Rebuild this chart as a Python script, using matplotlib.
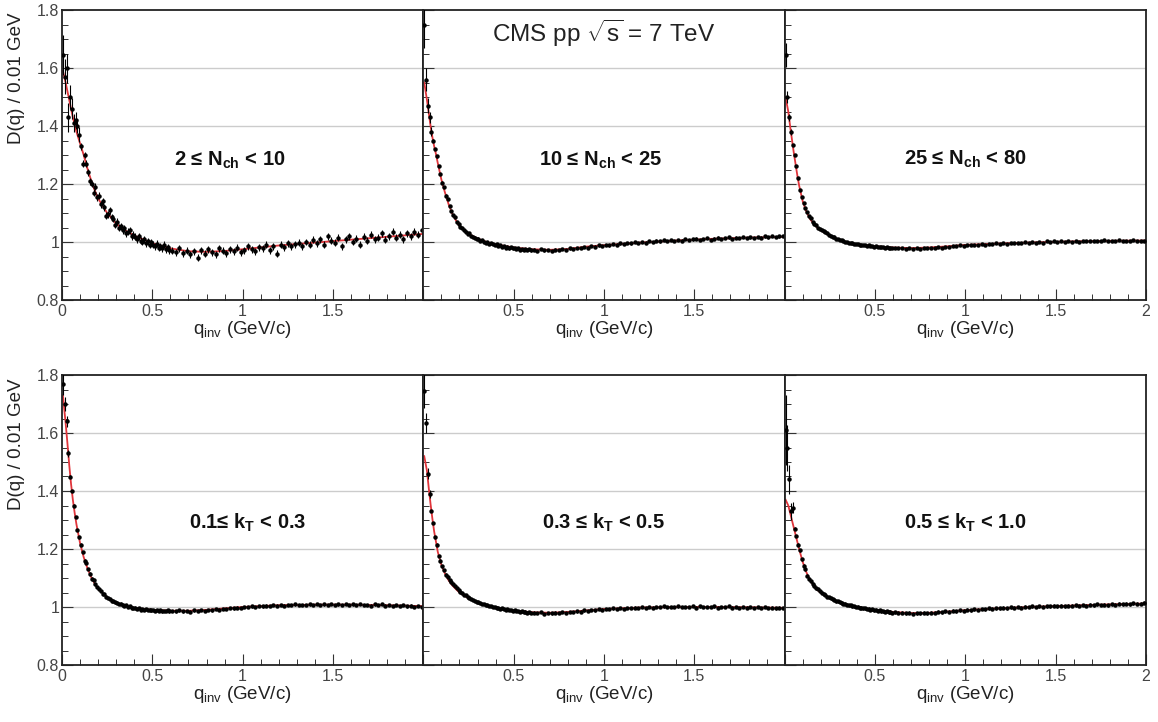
import numpy as np
import matplotlib
matplotlib.use("Agg")
import matplotlib.pyplot as plt
from matplotlib.ticker import MultipleLocator, FixedLocator, FixedFormatter

plt.rcParams["font.family"] = ["Liberation Sans", "DejaVu Sans"]
plt.rcParams["mathtext.fontset"] = "custom"
plt.rcParams["mathtext.rm"] = "Liberation Sans"
plt.rcParams["mathtext.it"] = "Liberation Sans:italic"
plt.rcParams["mathtext.bf"] = "Liberation Sans:bold"
plt.rcParams["mathtext.sf"] = "Liberation Sans"

# bin centres: 0.01 GeV bins up to 0.6, then every other bin
q_lo = np.arange(60) * 0.01 + 0.005
q_hi = np.arange(70) * 0.02 + 0.61
q_bins = np.concatenate([q_lo, q_hi])

# ---- measured D(q), one list per panel ----
d_nch_2_10 = [
    1.645, 1.570, 1.600, 1.430, 1.500, 1.460, 1.410, 1.420, 1.400, 1.370,
    1.330, 1.270, 1.300, 1.270, 1.240, 1.210, 1.200, 1.170, 1.190, 1.155,
    1.160, 1.130, 1.140, 1.120, 1.090, 1.095, 1.110, 1.085, 1.080, 1.060,
    1.070, 1.050, 1.055, 1.040, 1.048, 1.030, 1.035, 1.040, 1.020, 1.025,
    1.018, 1.010, 1.020, 1.005, 1.000, 1.010, 0.995, 1.002, 0.990, 1.000,
    0.990, 0.985, 0.994, 0.980, 0.985, 0.978, 0.990, 0.975, 0.982, 0.972,
    0.970, 0.965, 0.978, 0.962, 0.970, 0.958, 0.968, 0.945, 0.972, 0.960,
    0.975, 0.965, 0.958, 0.978, 0.970, 0.962, 0.975, 0.968, 0.980, 0.965,
    0.972, 0.985, 0.975, 0.968, 0.982, 0.978, 0.990, 0.972, 0.985, 0.960,
    0.990, 0.982, 0.995, 0.985, 0.992, 0.998, 0.985, 1.000, 0.990, 1.008,
    0.995, 1.010, 0.990, 1.020, 1.005, 0.998, 1.015, 0.985, 1.010, 1.020,
    1.000, 1.012, 0.990, 1.018, 1.005, 1.025, 1.010, 1.015, 1.030, 1.008,
    1.020, 1.035, 1.015, 1.025, 1.010, 1.030, 1.020, 1.035, 1.025, 1.040,
]
d_nch_10_25 = [
    1.750, 1.560, 1.470, 1.430, 1.380, 1.350, 1.320, 1.295, 1.262, 1.235,
    1.205, 1.190, 1.160, 1.148, 1.125, 1.108, 1.092, 1.085, 1.068, 1.062,
    1.052, 1.048, 1.040, 1.036, 1.028, 1.030, 1.020, 1.018, 1.015, 1.010,
    1.012, 1.005, 1.006, 1.000, 0.998, 1.000, 0.994, 0.996, 0.992, 0.990,
    0.992, 0.986, 0.988, 0.984, 0.986, 0.980, 0.984, 0.978, 0.982, 0.978,
    0.980, 0.976, 0.978, 0.974, 0.977, 0.972, 0.976, 0.973, 0.975, 0.971,
    0.974, 0.970, 0.975, 0.971, 0.973, 0.969, 0.974, 0.972, 0.976, 0.973,
    0.978, 0.976, 0.980, 0.979, 0.983, 0.981, 0.986, 0.984, 0.988, 0.987,
    0.990, 0.988, 0.993, 0.991, 0.995, 0.994, 0.997, 0.995, 0.999, 0.996,
    1.000, 0.998, 1.003, 1.000, 1.005, 1.002, 1.006, 1.003, 1.007, 1.004,
    1.008, 1.005, 1.010, 1.006, 1.009, 1.012, 1.007, 1.011, 1.013, 1.008,
    1.012, 1.015, 1.010, 1.014, 1.016, 1.011, 1.015, 1.013, 1.017, 1.014,
    1.016, 1.013, 1.018, 1.015, 1.019, 1.016, 1.020, 1.017, 1.019, 1.021,
]
d_nch_25_80 = [
    1.645, 1.500, 1.430, 1.380, 1.335, 1.300, 1.262, 1.220, 1.180, 1.155,
    1.135, 1.118, 1.102, 1.090, 1.082, 1.070, 1.062, 1.058, 1.050, 1.046,
    1.040, 1.037, 1.034, 1.030, 1.024, 1.022, 1.018, 1.016, 1.012, 1.010,
    1.008, 1.006, 1.004, 1.001, 0.999, 0.998, 0.996, 0.996, 0.993, 0.994,
    0.992, 0.990, 0.991, 0.988, 0.989, 0.987, 0.988, 0.985, 0.987, 0.984,
    0.985, 0.983, 0.984, 0.982, 0.983, 0.980, 0.982, 0.980, 0.981, 0.979,
    0.981, 0.979, 0.980, 0.977, 0.979, 0.976, 0.979, 0.977, 0.980, 0.978,
    0.981, 0.979, 0.983, 0.981, 0.984, 0.983, 0.986, 0.985, 0.988, 0.987,
    0.990, 0.989, 0.991, 0.990, 0.993, 0.991, 0.994, 0.993, 0.995, 0.994,
    0.996, 0.994, 0.997, 0.996, 0.998, 0.996, 0.999, 0.997, 1.000, 0.998,
    1.000, 0.998, 1.002, 0.999, 1.003, 1.000, 1.002, 1.001, 1.004, 1.001,
    1.003, 1.001, 1.004, 1.002, 1.005, 1.002, 1.004, 1.003, 1.006, 1.003,
    1.005, 1.003, 1.006, 1.004, 1.005, 1.003, 1.006, 1.004, 1.005, 1.004,
]
d_kt_01_03 = [
    1.770, 1.700, 1.640, 1.530, 1.450, 1.400, 1.350, 1.310, 1.265, 1.240,
    1.215, 1.190, 1.160, 1.152, 1.130, 1.115, 1.098, 1.092, 1.078, 1.070,
    1.062, 1.055, 1.046, 1.044, 1.036, 1.032, 1.028, 1.022, 1.020, 1.016,
    1.015, 1.010, 1.012, 1.006, 1.004, 1.006, 1.000, 1.002, 0.998, 0.996,
    0.998, 0.993, 0.996, 0.991, 0.994, 0.990, 0.992, 0.989, 0.991, 0.988,
    0.990, 0.987, 0.989, 0.986, 0.988, 0.985, 0.987, 0.986, 0.988, 0.985,
    0.987, 0.985, 0.988, 0.985, 0.987, 0.984, 0.988, 0.986, 0.989, 0.987,
    0.990, 0.988, 0.992, 0.991, 0.994, 0.993, 0.996, 0.995, 0.998, 0.997,
    1.000, 0.999, 1.002, 1.001, 1.004, 1.002, 1.005, 1.003, 1.006, 1.005,
    1.007, 1.005, 1.008, 1.006, 1.009, 1.007, 1.008, 1.006, 1.009, 1.008,
    1.010, 1.006, 1.009, 1.008, 1.011, 1.007, 1.009, 1.008, 1.010, 1.006,
    1.009, 1.007, 1.010, 1.006, 1.008, 1.005, 1.009, 1.006, 1.010, 1.005,
    1.007, 1.004, 1.008, 1.003, 1.006, 1.002, 1.005, 1.001, 1.004, 1.000,
]
d_kt_03_05 = [
    1.745, 1.635, 1.460, 1.390, 1.330, 1.290, 1.240, 1.215, 1.175, 1.160,
    1.140, 1.128, 1.112, 1.105, 1.092, 1.085, 1.078, 1.072, 1.066, 1.058,
    1.052, 1.048, 1.042, 1.040, 1.034, 1.030, 1.027, 1.024, 1.020, 1.018,
    1.016, 1.014, 1.010, 1.011, 1.006, 1.007, 1.003, 1.004, 1.000, 1.001,
    0.998, 0.997, 0.994, 0.995, 0.992, 0.991, 0.993, 0.989, 0.990, 0.987,
    0.988, 0.986, 0.987, 0.984, 0.985, 0.983, 0.984, 0.981, 0.983, 0.980,
    0.981, 0.979, 0.982, 0.977, 0.980, 0.978, 0.981, 0.979, 0.982, 0.980,
    0.983, 0.982, 0.985, 0.984, 0.988, 0.986, 0.990, 0.988, 0.992, 0.991,
    0.993, 0.992, 0.995, 0.993, 0.996, 0.994, 0.997, 0.996, 0.998, 0.996,
    0.999, 0.997, 1.000, 0.998, 1.001, 0.999, 1.002, 0.999, 1.001, 1.000,
    1.002, 0.999, 1.001, 1.000, 1.003, 0.998, 1.002, 1.000, 1.001, 0.999,
    1.002, 0.998, 1.001, 0.999, 1.003, 0.998, 1.000, 0.997, 1.001, 0.998,
    1.000, 0.997, 0.999, 0.996, 0.999, 0.997, 0.998, 0.995, 0.998, 0.996,
]
d_kt_05_10 = [
    1.610, 1.548, 1.440, 1.330, 1.343, 1.270, 1.245, 1.215, 1.195, 1.165,
    1.142, 1.130, 1.108, 1.097, 1.088, 1.080, 1.072, 1.064, 1.062, 1.054,
    1.050, 1.045, 1.042, 1.036, 1.034, 1.030, 1.027, 1.025, 1.020, 1.019,
    1.017, 1.015, 1.012, 1.011, 1.008, 1.006, 1.006, 1.003, 1.003, 1.000,
    1.001, 0.998, 0.997, 0.995, 0.996, 0.993, 0.994, 0.990, 0.992, 0.989,
    0.990, 0.987, 0.989, 0.985, 0.986, 0.984, 0.985, 0.982, 0.984, 0.981,
    0.982, 0.980, 0.981, 0.978, 0.980, 0.977, 0.979, 0.978, 0.981, 0.979,
    0.981, 0.980, 0.983, 0.982, 0.985, 0.983, 0.987, 0.986, 0.989, 0.987,
    0.990, 0.989, 0.992, 0.990, 0.993, 0.992, 0.995, 0.994, 0.996, 0.995,
    0.997, 0.996, 0.999, 0.997, 1.000, 0.998, 1.001, 1.000, 1.002, 1.000,
    1.002, 1.001, 1.003, 1.002, 1.004, 1.002, 1.005, 1.003, 1.005, 1.004,
    1.006, 1.004, 1.007, 1.005, 1.008, 1.006, 1.009, 1.007, 1.008, 1.006,
    1.010, 1.008, 1.011, 1.009, 1.012, 1.010, 1.013, 1.011, 1.012, 1.014,
]

# error bars: larger for the first bins, then a typical size
err_head = [
    [0.07, 0.06, 0.05, 0.05, 0.04, 0.035, 0.03, 0.03, 0.025, 0.025],
    [0.08, 0.04, 0.025, 0.02, 0.015],
    [0.04, 0.02, 0.012, 0.01],
    [0.04, 0.025, 0.018, 0.012],
    [0.06, 0.035, 0.02, 0.015],
    [0.12, 0.08, 0.05, 0.03, 0.02],
]
err_base = [0.012, 0.004, 0.003, 0.004, 0.004, 0.005]

# ---- fitted curves, read at these q values ----
fit_q = [0.005, 0.02, 0.03, 0.04, 0.05, 0.06, 0.07, 0.08, 0.10, 0.12,
         0.14, 0.16, 0.18, 0.20, 0.25, 0.30, 0.35, 0.40, 0.50, 0.60,
         0.70, 0.80, 0.90, 1.0, 1.2, 1.4, 1.6, 1.8, 2.0]
fit_nch_2_10 = [1.59, 1.55, 1.52, 1.49, 1.46, 1.43, 1.405, 1.38, 1.34, 1.30,
                1.255, 1.215, 1.18, 1.15, 1.10, 1.063, 1.04, 1.022, 0.996, 0.978,
                0.968, 0.966, 0.969, 0.975, 0.988, 0.998, 1.008, 1.018, 1.028]
fit_nch_10_25 = [1.55, 1.49, 1.445, 1.40, 1.362, 1.33, 1.303, 1.272, 1.215, 1.17,
                 1.13, 1.098, 1.075, 1.055, 1.028, 1.012, 1.0, 0.992, 0.981, 0.975,
                 0.973, 0.976, 0.984, 0.989, 0.998, 1.005, 1.011, 1.015, 1.018]
fit_nch_25_80 = [1.50, 1.45, 1.40, 1.355, 1.31, 1.27, 1.23, 1.195, 1.14, 1.105,
                 1.08, 1.063, 1.05, 1.04, 1.022, 1.008, 0.998, 0.992, 0.985, 0.981,
                 0.979, 0.981, 0.985, 0.99, 0.995, 0.999, 1.002, 1.004, 1.005]
fit_kt_01_03 = [1.73, 1.635, 1.565, 1.49, 1.425, 1.37, 1.325, 1.285, 1.22, 1.172,
                1.135, 1.105, 1.082, 1.063, 1.033, 1.015, 1.004, 0.997, 0.99, 0.987,
                0.987, 0.99, 0.995, 1.0, 1.006, 1.008, 1.008, 1.006, 1.003]
fit_kt_03_05 = [1.52, 1.47, 1.41, 1.355, 1.305, 1.26, 1.225, 1.19, 1.145, 1.115,
                1.092, 1.075, 1.062, 1.05, 1.03, 1.016, 1.006, 0.998, 0.988, 0.982,
                0.98, 0.983, 0.988, 0.993, 0.998, 1.0, 1.0, 0.999, 0.997]
fit_kt_05_10 = [1.37, 1.35, 1.325, 1.30, 1.275, 1.25, 1.225, 1.20, 1.155, 1.12,
                1.093, 1.074, 1.06, 1.049, 1.03, 1.017, 1.007, 1.0, 0.99, 0.983,
                0.979, 0.98, 0.984, 0.989, 0.996, 1.001, 1.005, 1.009, 1.012]

panel_data = [d_nch_2_10, d_nch_10_25, d_nch_25_80, d_kt_01_03, d_kt_03_05, d_kt_05_10]
panel_fits = [fit_nch_2_10, fit_nch_10_25, fit_nch_25_80, fit_kt_01_03, fit_kt_03_05, fit_kt_05_10]
panel_labels = [
    r"2 ≤ N$_{\mathbf{ch}}$ < 10",
    r"10 ≤ N$_{\mathbf{ch}}$ < 25",
    r"25 ≤ N$_{\mathbf{ch}}$ < 80",
    r"0.1≤ k$_{\mathbf{T}}$ < 0.3",
    r"0.3 ≤ k$_{\mathbf{T}}$ < 0.5",
    r"0.5 ≤ k$_{\mathbf{T}}$ < 1.0",
]
label_pos = [(0.93, 1.28), (0.98, 1.28), (1.0, 1.285), (1.03, 1.29), (1.0, 1.29), (1.0, 1.29)]

W, H = 1158, 722
fig = plt.figure(figsize=(W / 100, H / 100), dpi=100)

x_left = 62
x_right = 1146
pw = (x_right - x_left) / 3
row_px = [(10, 300), (375, 665)]

for i in range(6):
    r, c = divmod(i, 3)
    top, bot = row_px[r]
    ax = fig.add_axes([(x_left + c * pw) / W, 1 - bot / H, pw / W, (bot - top) / H])

    y = np.array(panel_data[i])
    e = np.array(err_head[i] + [err_base[i]] * (len(y) - len(err_head[i])))

    ax.plot(fit_q, panel_fits[i], color="#e0353b", lw=1.3, zorder=2)
    ax.errorbar(q_bins, y, yerr=e, fmt="o", ms=2.2, color="black",
                elinewidth=0.8, capsize=0, zorder=3)

    ax.set_xlim(0, 2)
    ax.set_ylim(0.8, 1.8)
    for g in [1.0, 1.2, 1.4, 1.6]:
        ax.axhline(g, color="#cccccc", lw=1.0, zorder=1)

    ax.xaxis.set_major_locator(FixedLocator([0, 0.5, 1, 1.5, 2]))
    xl = ["0", "0.5", "1", "1.5", "2"]
    if c > 0:
        xl[0] = ""
    if c < 2:
        xl[4] = ""
    ax.xaxis.set_major_formatter(FixedFormatter(xl))
    ax.xaxis.set_minor_locator(MultipleLocator(0.1))
    ax.yaxis.set_major_locator(FixedLocator([0.8, 1.0, 1.2, 1.4, 1.6, 1.8]))
    ax.yaxis.set_minor_locator(MultipleLocator(0.05))
    if c == 0:
        ax.yaxis.set_major_formatter(FixedFormatter(["0.8", "1", "1.2", "1.4", "1.6", "1.8"]))
    else:
        ax.set_yticklabels([])

    ax.tick_params(which="both", direction="in", top=False, right=False,
                   colors="#333333", labelcolor="#444444", labelsize=11.5)
    ax.tick_params(which="major", length=8, width=0.8)
    ax.tick_params(which="minor", length=4, width=0.7)
    ax.tick_params(axis="x", pad=3)
    ax.tick_params(axis="y", pad=2)
    for s in ax.spines.values():
        s.set_linewidth(1.3)
        s.set_color("#222222")

    ax.set_xlabel(r"q$_{\mathrm{inv}}$ (GeV/c)", fontsize=13.5, color="#222222", labelpad=0)
    ax.text(label_pos[i][0], label_pos[i][1], panel_labels[i], fontsize=14.5,
            fontweight="bold", ha="center", va="center", color="#111111")

    if i == 1:
        ax.text(1.0, 1.72, r"CMS pp $\sqrt{\mathrm{s}}$ = 7 TeV", fontsize=17.5,
                ha="center", va="center", color="#222222")

    if c == 0:
        fig.text(17 / W, 1 - (top + 3) / H, "D(q) / 0.01 GeV", rotation=90,
                 ha="center", va="top", fontsize=13.5, color="#222222")

fig.savefig("out.png", dpi=100)
